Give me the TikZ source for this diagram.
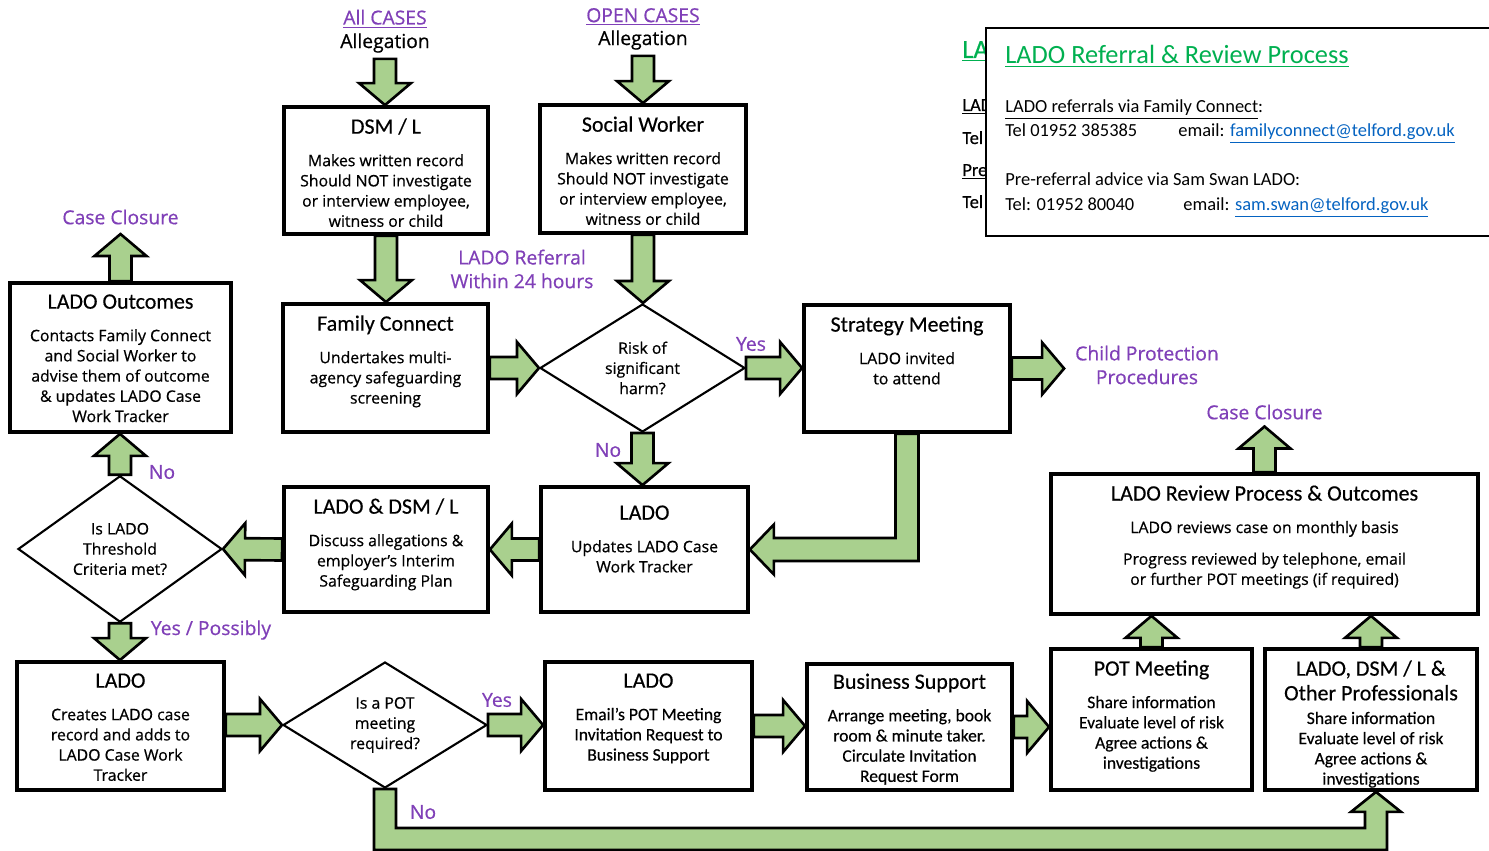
\documentclass[tikz,border=0pt]{standalone}
\usepackage{fontspec}
\setmainfont{Open Sans}[FakeBold=0.6]
\newfontfamily\calibrifam{Carlito}
\newfontfamily\calibribold{Carlito}[FakeBold=0.4]
\usetikzlibrary{shapes.geometric,calc}

\definecolor{arrowgreen}{RGB}{169,208,142}
\definecolor{labelpurple}{RGB}{128,64,184}
\definecolor{titlegreen}{RGB}{0,176,80}
\definecolor{linkblue}{RGB}{5,99,193}

\newcommand\titlefont{\calibribold\fontsize{12.5}{14}\selectfont}
\newcommand\bodyfont{\fontsize{9}{11.5}\selectfont}
\newcommand\condfont{\calibribold\fontsize{10}{11.5}\selectfont}
% box text: [top space]{width}{height}{title}{body}
\newcommand\boxtext[5][6.5pt]{\parbox[c][#3][t]{#2}{\centering\vspace*{#1}{\titlefont #4\par}\vspace{7pt}{\bodyfont #5\par}}}
% green block arrow from #1 to #2
\newcommand\blockarrow[2]{%
  \coordinate (ba tail) at (#1);
  \coordinate (ba tip) at (#2);
  \coordinate (ba neck) at ($(ba tip)!0.44cm!(ba tail)$);
  \draw[blockarr] ($(ba tail)!0.22cm!90:(ba tip)$) -- ($(ba neck)!0.22cm!90:(ba tip)$)
    -- ($(ba neck)!0.52cm!90:(ba tip)$) -- (ba tip) -- ($(ba neck)!0.52cm!-90:(ba tip)$)
    -- ($(ba neck)!0.22cm!-90:(ba tip)$) -- ($(ba tail)!0.22cm!-90:(ba tip)$) -- cycle;}

\begin{document}
\begin{tikzpicture}[x=0.02cm,y=-0.02cm]
	\tikzset{box/.style = {draw, line width=2.2pt, fill=white, inner sep=0pt}}
	\tikzset{decision/.style = {shape=diamond, draw, line width=1.2pt, fill=white, inner sep=0pt, align=center, font=\bodyfont}}
	\tikzset{blockarr/.style = {draw, fill=arrowgreen, line width=1.5pt, line join=miter}}
	\tikzset{lbl/.style = {text=labelpurple, font=\fontsize{11}{13.5}\selectfont, align=center, inner sep=1pt}}
	\tikzset{info/.style = {anchor=base west, font=\calibrifam\fontsize{10.5}{12}\selectfont, inner sep=0pt}}
	\fill[white] (0,0) rectangle (1489,851);
	\useasboundingbox (0,0) rectangle (1489,851);

	% contact box, with the one behind it
	\node[info, font=\calibribold\fontsize{15}{17}\selectfont, text=titlegreen] (back1) at (962,58) {\underline{LAD}};
	\node[info, font=\calibribold\fontsize{10.5}{12}\selectfont] (back2) at (962,111) {\underline{LAD}};
	\node[info, font=\calibribold\fontsize{10.5}{12}\selectfont] (back3) at (962,144) {Tel};
	\node[info, font=\calibribold\fontsize{10.5}{12}\selectfont] (back4) at (962,176) {\underline{Pre}};
	\node[info, font=\calibribold\fontsize{10.5}{12}\selectfont] (back5) at (962,208) {Tel};
	\node[draw, fill=white, line width=1.2pt, minimum width=10.4cm, minimum height=4.16cm, anchor=north west] (contact) at (985,27) {};
	\node[info, font=\calibrifam\fontsize{15}{17}\selectfont, text=titlegreen] (ctitle) at (1005,64) {\underline{LADO Referral \& Review Process}};
	\node[info] (fcline) at (1005,113) {\underline{LADO referrals via Family Connect}:};
	\node[info] (fctel) at (1005,137) {Tel 01952 385385};
	\node[info] (fcmail) at (1178,137) {email: \textcolor{linkblue}{\underline{familyconnect@telford.gov.uk}}};
	\node[info] (ssline) at (1005,186) {Pre-referral advice via Sam Swan LADO:};
	\node[info] (sstel) at (1005,211) {Tel: 01952 80040};
	\node[info] (ssmail) at (1183,211) {email: \textcolor{linkblue}{\underline{sam.swan@telford.gov.uk}}};

	% labels
	\node[lbl] (all) at (385,19) {\underline{All CASES}};
	\node[font=\fontsize{11}{13.5}\selectfont] (alleg1) at (385,43) {Allegation};
	\node[lbl] (open) at (643,17) {\underline{OPEN CASES}};
	\node[font=\fontsize{11}{13.5}\selectfont] (alleg2) at (643,40) {Allegation};
	\node[lbl] (referral) at (522,269) {LADO Referral\\Within 24 hours};
	\node[lbl] (close1) at (120.5,217) {Case Closure};
	\node[lbl] (close2) at (1264.5,412) {Case Closure};
	\node[lbl] (cp) at (1147,365) {Child Protection\\Procedures};
	\node[lbl] (yes1) at (751,344) {Yes};
	\node[lbl] (no1) at (608,450) {No};
	\node[lbl] (no2) at (162,472) {No};
	\node[lbl] (yes2) at (211,630) {Yes / Possibly};
	\node[lbl] (yes3) at (497,700) {Yes};
	\node[lbl] (no3) at (423,812) {No};

	% boxes
	\node[box] (dsm) at (386,170.5) {\boxtext{4.08cm}{2.54cm}{DSM / L}{Makes written record\\Should NOT investigate\\or interview employee,\\witness or child}};
	\node[box] (sw) at (643,169) {\boxtext{4.12cm}{2.56cm}{Social Worker}{Makes written record\\Should NOT investigate\\or interview employee,\\witness or child}};
	\node[box] (fc) at (385.5,368) {\boxtext{4.1cm}{2.56cm}{Family Connect}{Undertakes multi-\\agency safeguarding\\screening}};
	\node[box] (outc) at (120.5,357.5) {\boxtext{4.42cm}{2.98cm}{LADO Outcomes}{Contacts Family Connect\\and Social Worker to\\advise them of outcome\\\& updates LADO Case\\Work Tracker}};
	\node[box] (strat) at (907,368.5) {\boxtext{4.12cm}{2.54cm}{Strategy Meeting}{LADO invited\\to attend}};
	\node[box] (review) at (1264.5,544) {\boxtext{8.54cm}{2.8cm}{LADO Review Process \& Outcomes}{LADO reviews case on monthly basis\\[6.5pt]Progress reviewed by telephone, email\\or further POT meetings (if required)}};
	\node[box] (ladoupd) at (644.5,549.5) {\boxtext[10.5pt]{4.14cm}{2.5cm}{LADO}{Updates LADO Case\\Work Tracker}};
	\node[box] (ladodsm) at (386,549.5) {\boxtext{4.08cm}{2.5cm}{LADO \& DSM / L}{Discuss allegations \&\\employer’s Interim\\Safeguarding Plan}};
	\node[box] (ladocr) at (120.5,726) {\boxtext{4.14cm}{2.56cm}{LADO}{Creates LADO case\\record and adds to\\LADO Case Work\\Tracker}};
	\node[box] (email) at (648.5,726) {\boxtext{4.14cm}{2.56cm}{LADO}{\condfont Email’s POT Meeting\\Invitation Request to\\Business Support}};
	\node[box] (bsup) at (909.5,727) {\boxtext[5.5pt]{4.1cm}{2.52cm}{Business Support}{\condfont Arrange meeting, book\\room \& minute taker.\\Circulate Invitation\\Request Form}};
	\node[box] (potm) at (1151.5,719.5) {\boxtext{4.02cm}{2.82cm}{POT Meeting}{\condfont Share information\\Evaluate level of risk\\Agree actions \&\\investigations}};
	\node[box] (other) at (1371,719.5) {\boxtext{4.24cm}{2.82cm}{LADO, DSM / L \&\\Other Professionals}{\vspace{-5pt}\condfont Share information\\Evaluate level of risk\\Agree actions \&\\investigations}};

	% decisions
	\node[decision, minimum width=4.1cm, minimum height=2.56cm] (risk) at (642.5,368) {Risk of\\significant\\harm?};
	\node[decision, minimum width=4.08cm, minimum height=2.52cm] (thresh) at (120,549) {Is LADO\\Threshold\\Criteria met?};
	\node[decision, minimum width=4.08cm, minimum height=2.52cm] (potq) at (385,725) {Is a POT\\meeting\\required?};

	% arrows
	\blockarrow{alleg1.south}{alleg1.south |- dsm.north}
	\blockarrow{alleg2.south}{alleg2.south |- sw.north}
	\blockarrow{dsm.south}{dsm.south |- fc.north}
	\blockarrow{sw.south}{sw.south |- risk.north}
	\blockarrow{fc.east}{risk.west}
	\blockarrow{risk.east}{risk.east -| strat.west}
	\coordinate (cp tip) at ([xshift=-0.18cm]cp.west);
	\blockarrow{strat.east}{strat.east -| cp tip}
	\blockarrow{risk.south}{risk.south |- ladoupd.north}
	\blockarrow{ladoupd.west}{ladodsm.east}
	\blockarrow{ladodsm.west}{thresh.east}
	\blockarrow{thresh.north}{thresh.north |- outc.south}
	\blockarrow{outc.north}{[yshift=-0.15cm]close1.south}
	\blockarrow{thresh.south}{thresh.south |- ladocr.north}
	\blockarrow{potq.west -| ladocr.east}{potq.west}
	\blockarrow{potq.east}{potq.east -| email.west}
	\blockarrow{email.east}{email.east -| bsup.west}
	\blockarrow{bsup.east}{bsup.east -| potm.west}
	\blockarrow{potm.north}{potm.north |- review.south}
	\blockarrow{other.north}{other.north |- review.south}
	\blockarrow{review.north}{[yshift=-0.1cm]close2.south}
	\draw[blockarr] let \p1=(strat.south), \p2=(ladoupd.east) in
		(\x1-0.23cm,\y1) -- (\x1-0.23cm,\y2+0.23cm) -- (\x2+0.48cm,\y2+0.23cm) -- (\x2+0.48cm,\y2+0.5cm)
		-- (\p2) -- (\x2+0.48cm,\y2-0.5cm) -- (\x2+0.48cm,\y2-0.23cm) -- (\x1+0.23cm,\y2-0.23cm) -- (\x1+0.23cm,\y1) -- cycle;
	\draw[blockarr] let \p1=(potq.south), \p2=([xshift=0.1cm]other.south), \n1={\y1-1cm} in
		(\x1-0.22cm,\y1) -- (\x1-0.22cm,\n1-0.22cm) -- (\x2+0.22cm,\n1-0.22cm) -- (\x2+0.22cm,\y2-0.4cm)
		-- (\x2+0.5cm,\y2-0.4cm) -- (\p2) -- (\x2-0.5cm,\y2-0.4cm) -- (\x2-0.22cm,\y2-0.4cm)
		-- (\x2-0.22cm,\n1+0.22cm) -- (\x1+0.22cm,\n1+0.22cm) -- (\x1+0.22cm,\y1) -- cycle;
\end{tikzpicture}
\end{document}
